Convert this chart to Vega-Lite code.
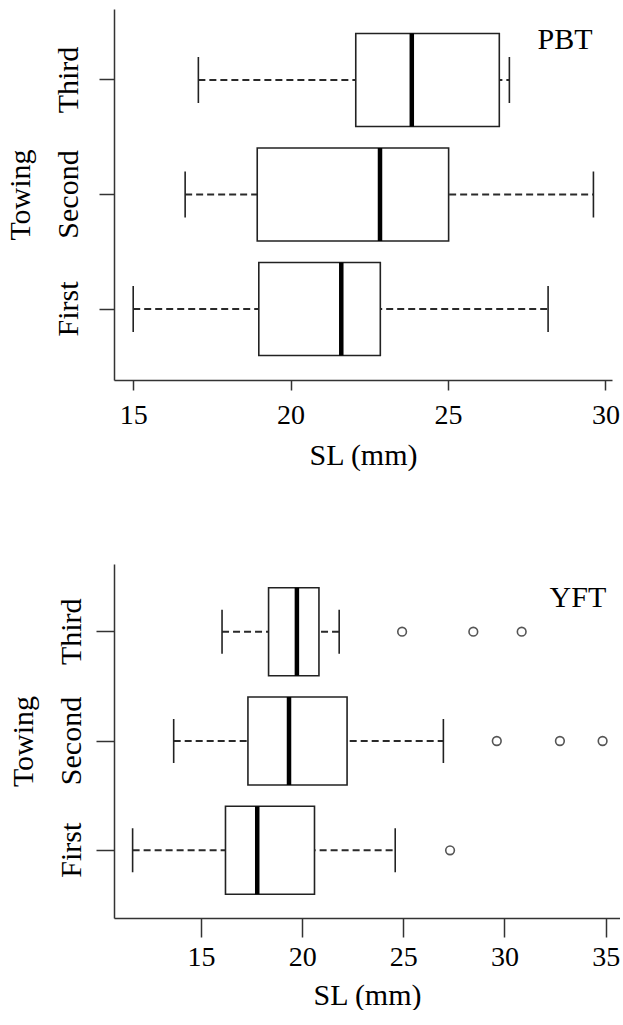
{
  "$schema": "https://vega.github.io/schema/vega-lite/v6.json",
  "padding": {"left": 5, "top": 9, "right": 0, "bottom": 0},
  "background": "white",
  "spacing": 94,
  "config": {
    "font": "Liberation Serif",
    "view": {"stroke": null},
    "axis": {
      "grid": false,
      "domainColor": "#333333",
      "domainWidth": 1.5,
      "tickColor": "#333333",
      "tickWidth": 1.5,
      "labelFont": "Liberation Serif",
      "titleFont": "Liberation Serif",
      "labelColor": "black",
      "titleColor": "black",
      "titleFontWeight": "normal",
      "labelFontSize": 28,
      "titleFontSize": 30
    },
    "axisY": {"labelFontSize": 30}
  },
  "datasets": {
    "boxes": [
      {"species": "PBT", "towing": "First", "lower": 15.0, "q1": 18.99, "median": 21.61, "q3": 22.85, "upper": 28.18},
      {"species": "PBT", "towing": "Second", "lower": 16.65, "q1": 18.94, "median": 22.84, "q3": 25.02, "upper": 29.62},
      {"species": "PBT", "towing": "Third", "lower": 17.07, "q1": 22.07, "median": 23.85, "q3": 26.63, "upper": 26.95},
      {"species": "YFT", "towing": "First", "lower": 11.62, "q1": 16.21, "median": 17.78, "q3": 20.61, "upper": 24.6},
      {"species": "YFT", "towing": "Second", "lower": 13.65, "q1": 17.32, "median": 19.35, "q3": 22.22, "upper": 26.98},
      {"species": "YFT", "towing": "Third", "lower": 16.04, "q1": 18.34, "median": 19.74, "q3": 20.83, "upper": 21.83}
    ],
    "outliers": [
      {"species": "YFT", "towing": "Third", "value": 24.94},
      {"species": "YFT", "towing": "Third", "value": 28.46},
      {"species": "YFT", "towing": "Third", "value": 30.85},
      {"species": "YFT", "towing": "Second", "value": 29.62},
      {"species": "YFT", "towing": "Second", "value": 32.74},
      {"species": "YFT", "towing": "Second", "value": 34.85},
      {"species": "YFT", "towing": "First", "value": 27.31}
    ]
  },
  "vconcat": [
    {
      "width": 498,
      "height": 371,
      "encoding": {
        "y": {
          "field": "towing", "type": "nominal",
          "scale": {"domain": ["Third", "Second", "First"], "paddingInner": 0, "paddingOuter": 0.12},
          "axis": {"title": "Towing", "labelFont": "Liberation Serif", "titleFont": "Liberation Serif", "labelAngle": -90, "labelAlign": "center", "labelBaseline": "alphabetic", "tickSize": 15, "labelPadding": 22, "titlePadding": 18}
        }
      },
      "layer": [
        {
          "data": {"name": "boxes"},
          "transform": [{"filter": "datum.species === 'PBT'"}],
          "mark": {"type": "rule", "strokeDash": [7, 4], "stroke": "#2a2a2a", "strokeWidth": 1.8},
          "encoding": {
            "x": {"field": "lower", "type": "quantitative", "title": "SL (mm)",
              "scale": {"domain": [14.39, 30.21], "nice": false, "zero": false},
              "axis": {"values": [15, 20, 25, 30], "labelFont": "Liberation Serif", "titleFont": "Liberation Serif", "tickSize": 10, "labelPadding": 11, "titlePadding": 11, "labelFlush": false}},
            "x2": {"field": "upper"}
          }
        },
        {
          "data": {"name": "boxes"},
          "transform": [{"filter": "datum.species === 'PBT'"}],
          "mark": {"type": "bar", "size": 93, "fill": "white", "stroke": "#222222", "strokeWidth": 1.6},
          "encoding": {
            "x": {"field": "q1", "type": "quantitative", "title": "SL (mm)",
              "axis": {"values": [15, 20, 25, 30], "labelFont": "Liberation Serif", "titleFont": "Liberation Serif", "tickSize": 10, "labelPadding": 11, "titlePadding": 11, "labelFlush": false}},
            "x2": {"field": "q3"}
          }
        },
        {
          "data": {"name": "boxes"},
          "transform": [{"filter": "datum.species === 'PBT'"}],
          "mark": {"type": "tick", "size": 93, "thickness": 4.5, "color": "black", "opacity": 1},
          "encoding": {"x": {"field": "median", "type": "quantitative", "title": "SL (mm)",
            "axis": {"values": [15, 20, 25, 30], "labelFont": "Liberation Serif", "titleFont": "Liberation Serif", "tickSize": 10, "labelPadding": 11, "titlePadding": 11, "labelFlush": false}}}
        },
        {
          "data": {"name": "boxes"},
          "transform": [{"filter": "datum.species === 'PBT'"}],
          "mark": {"type": "tick", "size": 46, "thickness": 1.6, "color": "#222222", "opacity": 1},
          "encoding": {"x": {"field": "lower", "type": "quantitative", "title": "SL (mm)",
            "axis": {"values": [15, 20, 25, 30], "labelFont": "Liberation Serif", "titleFont": "Liberation Serif", "tickSize": 10, "labelPadding": 11, "titlePadding": 11, "labelFlush": false}}}
        },
        {
          "data": {"name": "boxes"},
          "transform": [{"filter": "datum.species === 'PBT'"}],
          "mark": {"type": "tick", "size": 46, "thickness": 1.6, "color": "#222222", "opacity": 1},
          "encoding": {"x": {"field": "upper", "type": "quantitative", "title": "SL (mm)",
            "axis": {"values": [15, 20, 25, 30], "labelFont": "Liberation Serif", "titleFont": "Liberation Serif", "tickSize": 10, "labelPadding": 11, "titlePadding": 11, "labelFlush": false}}}
        },
        {
          "data": {"values": [{"label": "PBT", "pos": 28.72, "row": "Third"}]},
          "mark": {"type": "text", "fontSize": 30, "font": "Liberation Serif", "baseline": "middle", "align": "center", "dy": -40, "color": "black"},
          "encoding": {
            "x": {"field": "pos", "type": "quantitative", "title": "SL (mm)",
              "axis": {"values": [15, 20, 25, 30], "labelFont": "Liberation Serif", "titleFont": "Liberation Serif", "tickSize": 10, "labelPadding": 11, "titlePadding": 11, "labelFlush": false}},
            "y": {"field": "row", "type": "nominal"},
            "text": {"field": "label"}
          }
        }
      ]
    },
    {
      "width": 506,
      "height": 354,
      "encoding": {
        "y": {
          "field": "towing", "type": "nominal",
          "scale": {"domain": ["Third", "Second", "First"], "paddingInner": 0, "paddingOuter": 0.12},
          "axis": {"title": "Towing", "labelFont": "Liberation Serif", "titleFont": "Liberation Serif", "labelAngle": -90, "labelAlign": "center", "labelBaseline": "alphabetic", "tickSize": 18, "labelPadding": 16, "titlePadding": 18}
        }
      },
      "layer": [
        {
          "data": {"name": "boxes"},
          "transform": [{"filter": "datum.species === 'YFT'"}],
          "mark": {"type": "rule", "strokeDash": [7, 4], "stroke": "#2a2a2a", "strokeWidth": 1.8},
          "encoding": {
            "x": {"field": "lower", "type": "quantitative", "title": "SL (mm)",
              "scale": {"domain": [10.7, 35.71], "nice": false, "zero": false},
              "axis": {"values": [15, 20, 25, 30, 35], "labelFont": "Liberation Serif", "titleFont": "Liberation Serif", "tickSize": 19, "labelPadding": 6, "titlePadding": 9, "labelFlush": false}},
            "x2": {"field": "upper"}
          }
        },
        {
          "data": {"name": "boxes"},
          "transform": [{"filter": "datum.species === 'YFT'"}],
          "mark": {"type": "bar", "size": 88, "fill": "white", "stroke": "#222222", "strokeWidth": 1.6},
          "encoding": {
            "x": {"field": "q1", "type": "quantitative", "title": "SL (mm)",
              "axis": {"values": [15, 20, 25, 30, 35], "labelFont": "Liberation Serif", "titleFont": "Liberation Serif", "tickSize": 19, "labelPadding": 6, "titlePadding": 9, "labelFlush": false}},
            "x2": {"field": "q3"}
          }
        },
        {
          "data": {"name": "boxes"},
          "transform": [{"filter": "datum.species === 'YFT'"}],
          "mark": {"type": "tick", "size": 88, "thickness": 4.5, "color": "black", "opacity": 1},
          "encoding": {"x": {"field": "median", "type": "quantitative", "title": "SL (mm)",
            "axis": {"values": [15, 20, 25, 30, 35], "labelFont": "Liberation Serif", "titleFont": "Liberation Serif", "tickSize": 19, "labelPadding": 6, "titlePadding": 9, "labelFlush": false}}}
        },
        {
          "data": {"name": "boxes"},
          "transform": [{"filter": "datum.species === 'YFT'"}],
          "mark": {"type": "tick", "size": 44, "thickness": 1.6, "color": "#222222", "opacity": 1},
          "encoding": {"x": {"field": "lower", "type": "quantitative", "title": "SL (mm)",
            "axis": {"values": [15, 20, 25, 30, 35], "labelFont": "Liberation Serif", "titleFont": "Liberation Serif", "tickSize": 19, "labelPadding": 6, "titlePadding": 9, "labelFlush": false}}}
        },
        {
          "data": {"name": "boxes"},
          "transform": [{"filter": "datum.species === 'YFT'"}],
          "mark": {"type": "tick", "size": 44, "thickness": 1.6, "color": "#222222", "opacity": 1},
          "encoding": {"x": {"field": "upper", "type": "quantitative", "title": "SL (mm)",
            "axis": {"values": [15, 20, 25, 30, 35], "labelFont": "Liberation Serif", "titleFont": "Liberation Serif", "tickSize": 19, "labelPadding": 6, "titlePadding": 9, "labelFlush": false}}}
        },
        {
          "data": {"name": "outliers"},
          "mark": {"type": "point", "shape": "circle", "filled": false, "size": 75, "stroke": "#555555", "strokeWidth": 1.6, "opacity": 1},
          "encoding": {"x": {"field": "value", "type": "quantitative", "title": "SL (mm)",
            "axis": {"values": [15, 20, 25, 30, 35], "labelFont": "Liberation Serif", "titleFont": "Liberation Serif", "tickSize": 19, "labelPadding": 6, "titlePadding": 9, "labelFlush": false}}}
        },
        {
          "data": {"values": [{"label": "YFT", "pos": 33.63, "row": "Third"}]},
          "mark": {"type": "text", "fontSize": 30, "font": "Liberation Serif", "baseline": "middle", "align": "center", "dy": -34, "color": "black"},
          "encoding": {
            "x": {"field": "pos", "type": "quantitative", "title": "SL (mm)",
              "axis": {"values": [15, 20, 25, 30, 35], "labelFont": "Liberation Serif", "titleFont": "Liberation Serif", "tickSize": 19, "labelPadding": 6, "titlePadding": 9, "labelFlush": false}},
            "y": {"field": "row", "type": "nominal"},
            "text": {"field": "label"}
          }
        }
      ]
    }
  ]
}
